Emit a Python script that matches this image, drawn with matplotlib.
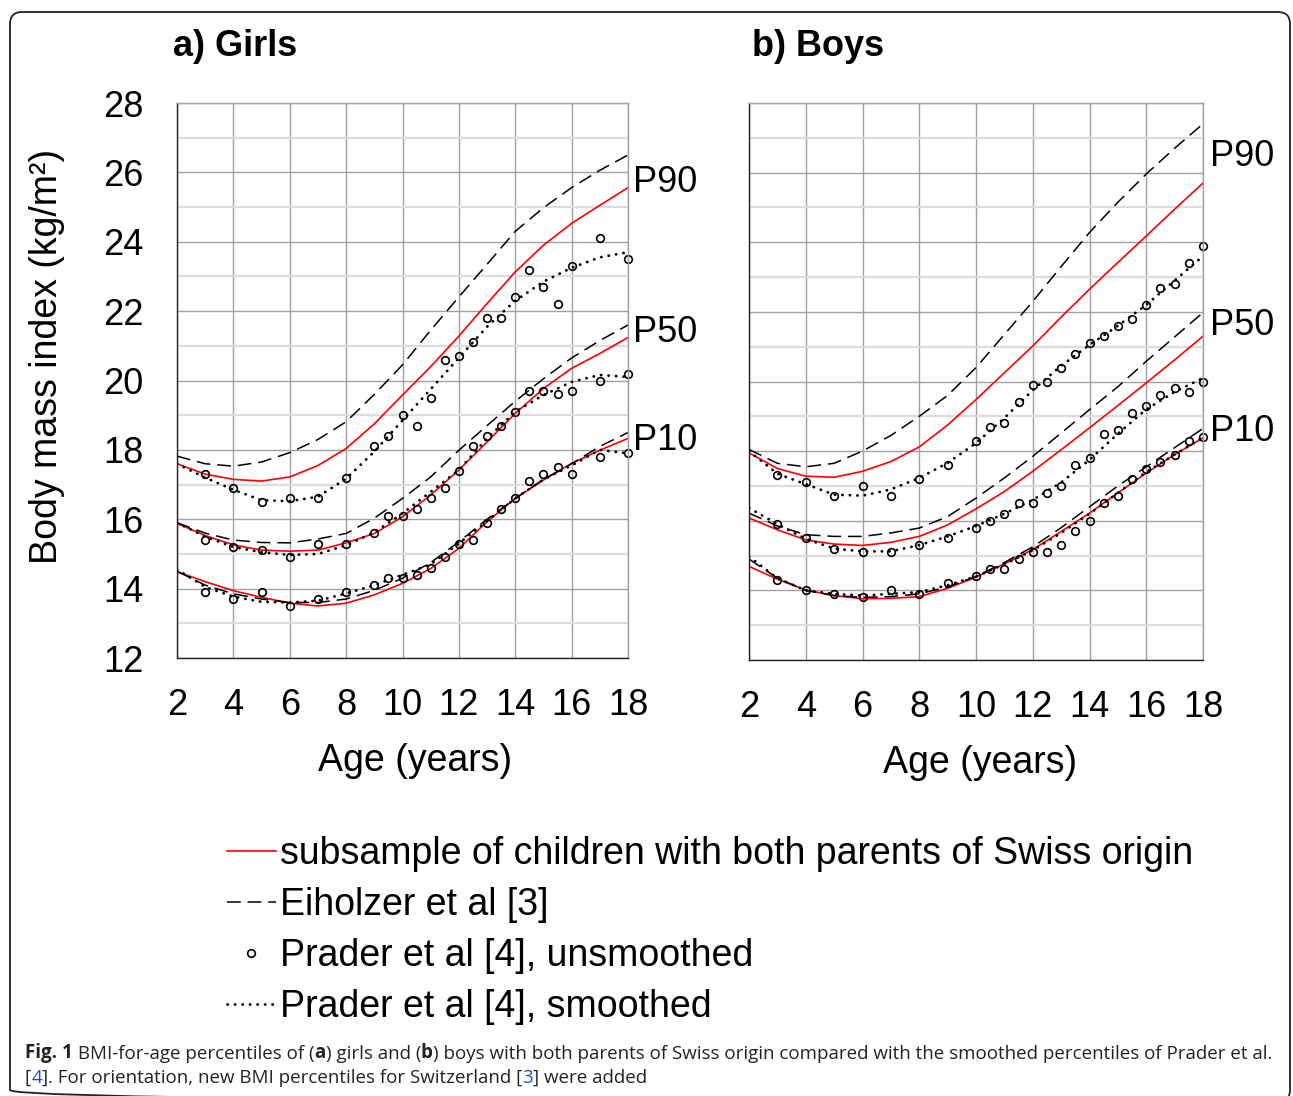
import matplotlib
matplotlib.use('Agg')
import matplotlib.pyplot as plt
from matplotlib.patches import FancyBboxPatch

plt.rcParams['font.family'] = ['Liberation Sans', 'DejaVu Sans']

# 年龄（岁）
ages = [2, 3, 4, 5, 6, 7, 8, 9, 10, 11, 12, 13, 14, 15, 16, 17, 18]

# 女孩：瑞士父母子样本（红色实线）
girls_sub_p90 = [17.6, 17.3, 17.15, 17.1, 17.22, 17.55, 18.04, 18.75, 19.58, 20.4, 21.28, 22.22, 23.13, 23.9, 24.53, 25.05, 25.56]
girls_sub_p50 = [15.88, 15.53, 15.26, 15.11, 15.08, 15.11, 15.32, 15.59, 16.07, 16.7, 17.42, 18.23, 19.05, 19.77, 20.35, 20.78, 21.24]
girls_sub_p10 = [14.49, 14.2, 13.94, 13.75, 13.58, 13.5, 13.58, 13.82, 14.15, 14.58, 15.16, 15.93, 16.6, 17.13, 17.61, 17.99, 18.33]
# 女孩：Eiholzer et al（虚线）
girls_eih_p90 = [17.82, 17.6, 17.53, 17.65, 17.92, 18.3, 18.81, 19.6, 20.45, 21.45, 22.41, 23.35, 24.3, 24.98, 25.56, 26.06, 26.5]
girls_eih_p50 = [15.9, 15.6, 15.4, 15.33, 15.32, 15.43, 15.59, 16.03, 16.6, 17.22, 17.99, 18.7, 19.4, 20.05, 20.65, 21.15, 21.6]
girls_eih_p10 = [14.5, 14.1, 13.85, 13.7, 13.6, 13.6, 13.7, 13.95, 14.3, 14.75, 15.35, 16.0, 16.6, 17.15, 17.6, 18.1, 18.5]
# 女孩：Prader et al 平滑（点线）
girls_pra_p90 = [17.6, 17.2, 16.85, 16.55, 16.52, 16.65, 17.17, 17.95, 18.85, 19.75, 20.65, 21.55, 22.3, 22.85, 23.25, 23.55, 23.7]
girls_pra_p50 = [15.9, 15.5, 15.2, 15.05, 14.97, 15.0, 15.25, 15.62, 16.17, 16.79, 17.42, 18.33, 19.1, 19.58, 19.96, 20.16, 20.1]
girls_pra_p10 = [14.55, 14.05, 13.77, 13.62, 13.6, 13.65, 13.86, 14.1, 14.4, 14.7, 15.3, 15.95, 16.6, 17.15, 17.55, 18.0, 17.9]
# 女孩：Prader et al 未平滑（圆点）
girls_pts_age = [3, 4, 5, 6, 7, 8, 9, 9.5, 10, 10.5, 11, 11.5, 12, 12.5, 13, 13.5, 14, 14.5, 15, 15.5, 16, 17, 18]
girls_pts_p90 = [17.3, 16.9, 16.5, 16.6, 16.6, 17.2, 18.1, 18.4, 19.0, 18.7, 19.5, 20.6, 20.7, 21.1, 21.8, 21.8, 22.4, 23.2, 22.7, 22.2, 23.3, 24.1, 23.5]
girls_pts_p50 = [15.4, 15.2, 15.1, 14.9, 15.3, 15.3, 15.6, 16.1, 16.1, 16.3, 16.6, 16.9, 17.4, 18.1, 18.4, 18.7, 19.1, 19.7, 19.7, 19.6, 19.7, 20.0, 20.2]
girls_pts_p10 = [13.9, 13.7, 13.9, 13.5, 13.7, 13.9, 14.1, 14.3, 14.3, 14.4, 14.6, 14.9, 15.3, 15.4, 15.9, 16.3, 16.6, 17.1, 17.3, 17.5, 17.3, 17.8, 17.9]

# 男孩：瑞士父母子样本
boys_sub_p90 = [17.95, 17.5, 17.28, 17.25, 17.42, 17.7, 18.12, 18.75, 19.48, 20.25, 21.02, 21.85, 22.65, 23.42, 24.18, 24.95, 25.7]
boys_sub_p50 = [16.08, 15.74, 15.45, 15.33, 15.29, 15.38, 15.55, 15.88, 16.34, 16.84, 17.42, 18.04, 18.67, 19.31, 19.96, 20.62, 21.3]
boys_sub_p10 = [14.69, 14.32, 14.01, 13.85, 13.76, 13.77, 13.82, 14.06, 14.38, 14.76, 15.17, 15.69, 16.22, 16.8, 17.37, 17.9, 18.38]
# 男孩：Eiholzer et al
boys_eih_p90 = [18.05, 17.65, 17.55, 17.65, 18.0, 18.45, 19.0, 19.6, 20.4, 21.35, 22.3, 23.3, 24.28, 25.15, 25.96, 26.7, 27.4]
boys_eih_p50 = [16.22, 15.85, 15.6, 15.55, 15.55, 15.65, 15.79, 16.12, 16.65, 17.23, 17.85, 18.52, 19.19, 19.85, 20.58, 21.28, 21.98]
boys_eih_p10 = [14.9, 14.35, 14.0, 13.85, 13.8, 13.82, 13.9, 14.1, 14.4, 14.8, 15.25, 15.8, 16.4, 17.0, 17.55, 18.1, 18.65]
# 男孩：Prader et al 平滑
boys_pra_p90 = [18.0, 17.35, 17.05, 16.75, 16.72, 16.9, 17.23, 17.66, 18.23, 18.95, 19.75, 20.45, 21.05, 21.6, 22.2, 22.9, 23.6]
boys_pra_p50 = [16.37, 15.9, 15.48, 15.2, 15.12, 15.12, 15.3, 15.55, 15.85, 16.2, 16.6, 17.1, 17.75, 18.5, 19.2, 19.7, 20.1]
boys_pra_p10 = [14.97, 14.35, 14.0, 13.9, 13.85, 13.9, 13.95, 14.15, 14.4, 14.75, 15.15, 15.65, 16.2, 16.8, 17.4, 17.9, 18.4]
# 男孩：Prader et al 未平滑
boys_pts_age = [3, 4, 5, 6, 7, 8, 9, 10, 10.5, 11, 11.5, 12, 12.5, 13, 13.5, 14, 14.5, 15, 15.5, 16, 16.5, 17, 17.5, 18]
boys_pts_p90 = [17.3, 17.1, 16.7, 17.0, 16.7, 17.2, 17.6, 18.3, 18.7, 18.8, 19.4, 19.9, 20.0, 20.4, 20.8, 21.1, 21.3, 21.6, 21.8, 22.2, 22.7, 22.8, 23.4, 23.9]
boys_pts_p50 = [15.9, 15.5, 15.2, 15.1, 15.1, 15.3, 15.5, 15.8, 16.0, 16.2, 16.5, 16.5, 16.8, 17.0, 17.6, 17.8, 18.5, 18.6, 19.1, 19.3, 19.6, 19.8, 19.7, 20.0]
boys_pts_p10 = [14.3, 14.0, 13.9, 13.8, 14.0, 13.9, 14.2, 14.4, 14.6, 14.6, 14.9, 15.1, 15.1, 15.3, 15.7, 16.0, 16.5, 16.7, 17.2, 17.5, 17.7, 17.9, 18.3, 18.4]

legend_labels = ['subsample of children with both parents of Swiss origin',
                 'Eiholzer et al [3]',
                 'Prader et al [4], unsmoothed',
                 'Prader et al [4], smoothed']

W, H = 1293, 1096
fig = plt.figure(figsize=(W / 100, H / 100), dpi=100)

# 背景坐标（像素），用于边框、标题和图注
bg = fig.add_axes([0, 0, 1, 1])
bg.set_xlim(0, W)
bg.set_ylim(H, 0)
bg.axis('off')
bg.add_patch(FancyBboxPatch((10, 12), 1280, 1090, boxstyle='round,pad=0,rounding_size=12',
                            fill=False, edgecolor='#222222', linewidth=1.3))
bg.text(173, 56, 'a) Girls', fontsize=26, fontweight='bold', va='baseline')
bg.text(752, 56, 'b) Boys', fontsize=26, fontweight='bold', va='baseline')
bg.text(47, 356, 'Body mass index (kg/m²)', fontsize=27, rotation=90, ha='center', va='center')

ax1 = fig.add_axes([177 / W, 1 - 658 / H, (628 - 177) / W, (658 - 103) / H])
ax2 = fig.add_axes([749 / W, 1 - 660 / H, (1203 - 749) / W, (660 - 103) / H])

sub_style = dict(color='#ff0000', linewidth=1.2)
eih_style = dict(color='black', linewidth=1.1, linestyle=(0, (9, 4.5)))
pra_style = dict(color='black', linewidth=2.0, linestyle=(0, (0.1, 2.6)), dash_capstyle='round')
pts_style = dict(linestyle='none', marker='o', markersize=5.5, markerfacecolor='none',
                 markeredgecolor='black', markeredgewidth=1.2, clip_on=False)

panels = [
    (ax1, [girls_sub_p90, girls_sub_p50, girls_sub_p10],
     [girls_eih_p90, girls_eih_p50, girls_eih_p10],
     [girls_pra_p90, girls_pra_p50, girls_pra_p10],
     girls_pts_age, [girls_pts_p90, girls_pts_p50, girls_pts_p10],
     18.18, [25.72, 21.37, 18.28]),
    (ax2, [boys_sub_p90, boys_sub_p50, boys_sub_p10],
     [boys_eih_p90, boys_eih_p50, boys_eih_p10],
     [boys_pra_p90, boys_pra_p50, boys_pra_p10],
     boys_pts_age, [boys_pts_p90, boys_pts_p50, boys_pts_p10],
     18.25, [26.45, 21.61, 18.56]),
]

handles = []
for ax, subs, eihs, pras, pts_age, pts, lab_x, lab_y in panels:
    for s in subs:
        h_sub, = ax.plot(ages, s, **sub_style)
    for e in eihs:
        h_eih, = ax.plot(ages, e, **eih_style)
    for p in pts:
        h_pts, = ax.plot(pts_age, p, **pts_style)
    for p in pras:
        h_pra, = ax.plot(ages, p, **pra_style)
    if not handles:
        handles = [h_sub, h_eih, h_pts, h_pra]
    # 百分位标签
    for name, yv in zip(['P90', 'P50', 'P10'], lab_y):
        ax.text(lab_x, yv, name, fontsize=26, ha='left', va='center', clip_on=False)

    ax.set_xlim(2, 18)
    ax.set_ylim(12, 28)
    ax.set_xticks(range(2, 19, 2))
    ax.set_yticks(range(12, 29, 2))
    ax.set_yticks(range(13, 28, 2), minor=True)
    ax.grid(True, which='major', color='#a0a0a0', linewidth=1.0)
    ax.grid(True, which='minor', axis='y', color='#dcdcdc', linewidth=1.6)
    ax.set_axisbelow(True)
    ax.tick_params(which='both', length=0, labelsize=26)
    ax.tick_params(axis='x', pad=21.5)
    ax.tick_params(axis='y', pad=24)
    for side in ['left', 'bottom']:
        ax.spines[side].set_color('#222222')
        ax.spines[side].set_linewidth(1.0)
    for side in ['top', 'right']:
        ax.spines[side].set_color('#a0a0a0')
        ax.spines[side].set_linewidth(1.0)
    ax.set_xlabel('Age (years)', fontsize=27)

ax2.tick_params(labelleft=False)
ax1.xaxis.set_label_coords(0.528, -0.153)
ax2.xaxis.set_label_coords(0.509, -0.153)

# 图例
fig.legend(handles, legend_labels, loc='upper left', bbox_to_anchor=(227 / W, 1 - 836 / H),
           frameon=False, fontsize=27, handlelength=1.3, handletextpad=0.12,
           labelspacing=0.40, borderpad=0, borderaxespad=0)

# 图注（分段拼接：粗体与蓝色引用）
cap_font = dict(family=['Open Sans', 'DejaVu Sans'], fontsize=13.5)
dark, blue = '#222222', '#1a4fd6'
lines = [
    [('Fig. 1', 'bold', dark), (' BMI-for-age percentiles of (', 'normal', dark),
     ('a', 'bold', dark), (') girls and (', 'normal', dark), ('b', 'bold', dark),
     (') boys with both parents of Swiss origin compared with the smoothed percentiles of Prader et al.',
      'normal', dark)],
    [('[', 'normal', dark), ('4', 'normal', blue), (']', 'normal', dark),
     ('. For orientation, new BMI percentiles for Switzerland [', 'normal', dark),
     ('3', 'normal', blue), ('] were added', 'normal', dark)],
]
for base_y, parts in zip([1058, 1083], lines):
    prev = None
    for txt, weight, col in parts:
        props = dict(cap_font, fontweight=weight, color=col)
        if prev is None:
            prev = bg.text(25, base_y, txt, va='baseline', ha='left', **props)
        else:
            prev = bg.annotate(txt, xy=(1, 0), xycoords=prev, va='bottom', ha='left', **props)

fig.savefig('out.png', dpi=100)
